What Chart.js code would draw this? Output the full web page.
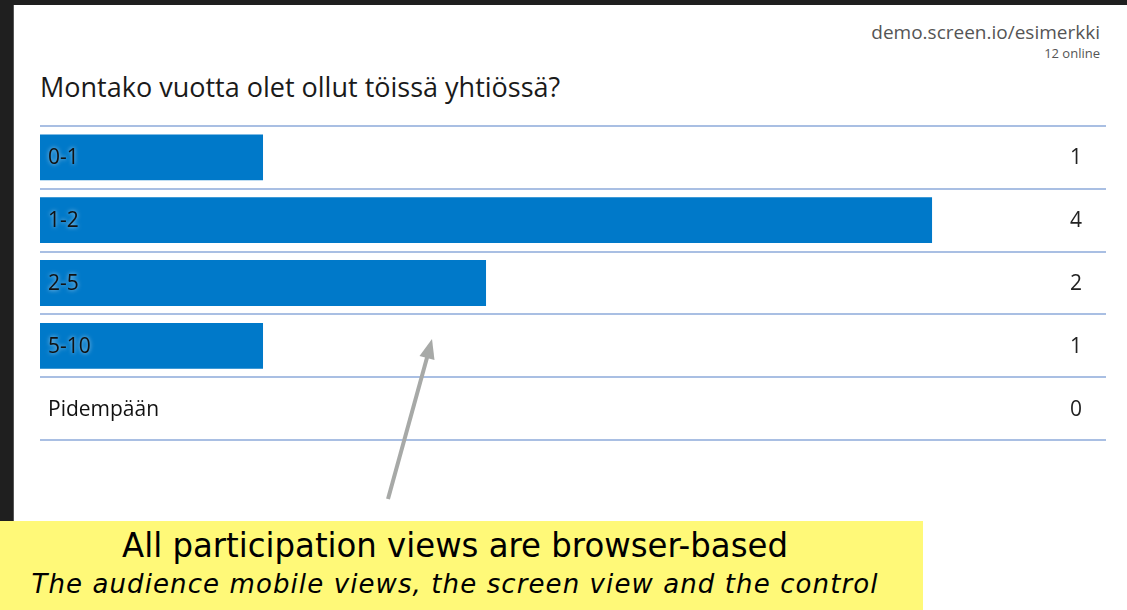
<!DOCTYPE html>
<html><head><meta charset="utf-8">
<script src="https://cdn.jsdelivr.net/npm/chart.js@4.4.1/dist/chart.umd.min.js"></script>
<style>
html,body{margin:0;padding:0;width:1127px;height:610px;overflow:hidden;background:#1f1f1f;}
#panel{position:absolute;left:13px;top:5px;right:0;bottom:0;background:#fff;border-left:1px solid #555;}
#wrap{position:absolute;left:0;top:0;width:1127px;height:610px;}
.url{position:absolute;right:27px;top:19px;font:19px 'Open Sans';color:#555;white-space:nowrap;}
.online{position:absolute;right:27px;top:44px;font:13px 'Open Sans';color:#555;white-space:nowrap;}
.title{position:absolute;left:40px;top:68px;font:27px 'Open Sans';color:#1a1a1a;white-space:nowrap;}
.note{position:absolute;left:0;top:521px;width:923px;height:89px;background:#fff978;overflow:hidden;}
.l1{position:absolute;left:0;width:910px;top:526px;text-align:center;font:33px 'DejaVu Sans';color:#000;white-space:nowrap;transform-origin:455px 0;transform:scaleX(0.98);}
.l2{position:absolute;left:0;width:910px;top:569px;text-align:center;font:italic 26px 'DejaVu Sans';color:#000;letter-spacing:1.1px;white-space:nowrap;}
svg{position:absolute;left:0;top:0;}
</style></head>
<body>
<div id="panel"></div>
<div class="url">demo.screen.io/esimerkki</div>
<div class="online">12 online</div>
<div class="title">Montako vuotta olet ollut töissä yhtiössä?</div>
<div id="wrap"><canvas id="c" width="1127" height="610"></canvas></div>
<svg width="1127" height="610">
<line x1="388" y1="499" x2="428" y2="354" stroke="#a7a9a7" stroke-width="4"/>
<polygon points="432,339 434.5,360 419.5,356" fill="#a7a9a7"/>
</svg>
<div class="note"></div>
<div class="l1">All participation views are browser-based</div>
<div class="l2">The audience mobile views, the screen view and the control</div>
<script>
const categories = ['0-1', '1-2', '2-5', '5-10', 'Pidempään'];
const values = [1, 4, 2, 1, 0];

const rowPlugin = {
  id: 'rows',
  afterDatasetsDraw(chart) {
    const ctx = chart.ctx, area = chart.chartArea;
    const y = chart.scales.y;
    const half = (y.getPixelForValue(1) - y.getPixelForValue(0)) / 2;
    ctx.save();
    ctx.strokeStyle = '#a9bfe3';
    ctx.lineWidth = 2;
    for (let i = 0; i <= categories.length; i++) {
      const py = Math.round(y.getPixelForValue(i) - half);
      ctx.beginPath();
      ctx.moveTo(area.left, py);
      ctx.lineTo(area.right, py);
      ctx.stroke();
    }
    ctx.font = "21px 'Open Sans'";
    ctx.textBaseline = 'middle';
    categories.forEach((c, i) => {
      const py = y.getPixelForValue(i);
      ctx.save();
      ctx.shadowColor = 'rgba(255,255,255,0.7)';
      ctx.shadowBlur = 4;
      ctx.fillStyle = '#111';
      ctx.textAlign = 'left';
      ctx.fillText(c, area.left + 8, py + 1);
      ctx.restore();
      ctx.fillStyle = '#222';
      ctx.textAlign = 'center';
      ctx.fillText(String(values[i]), 1076, py + 1);
    });
    ctx.restore();
  }
};

new Chart(document.getElementById('c'), {
  type: 'bar',
  data: {
    labels: categories,
    datasets: [{
      data: values,
      backgroundColor: '#0079c9',
      borderWidth: 0,
      barPercentage: 1,
      categoryPercentage: 0.73
    }]
  },
  options: {
    indexAxis: 'y',
    responsive: false,
    animation: false,
    events: [],
    layout: { padding: { left: 40, right: 21, top: 126, bottom: 170 } },
    plugins: { legend: { display: false }, tooltip: { enabled: false } },
    scales: {
      x: { display: false, min: 0, max: 4.78 },
      y: { display: false }
    }
  },
  plugins: [rowPlugin]
});
</script>
</body></html>
